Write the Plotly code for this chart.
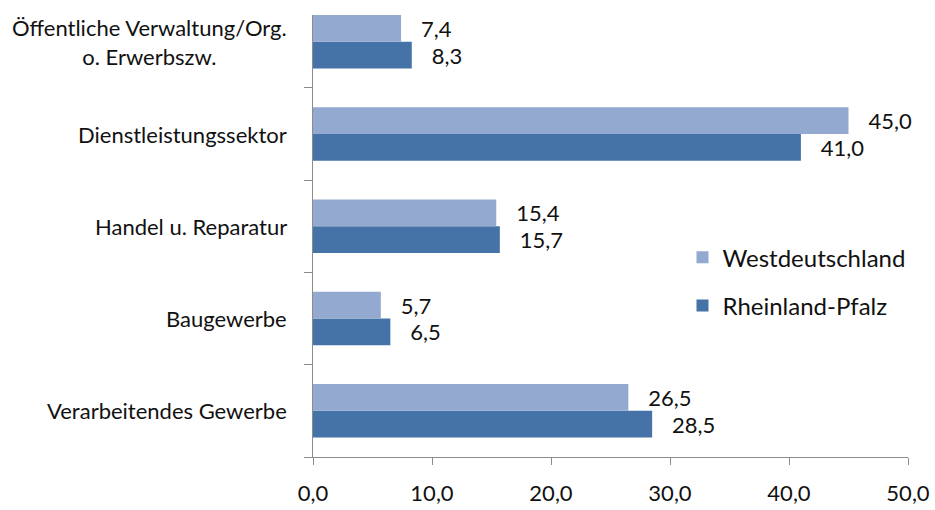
import plotly.graph_objects as go

# Sectors, bottom to top
categories = [
    "Verarbeitendes Gewerbe",
    "Baugewerbe",
    "Handel u. Reparatur",
    "Dienstleistungssektor",
    "Öffentliche Verwaltung/Org.<br>o. Erwerbszw.",
]
west = [26.5, 5.7, 15.4, 45.0, 7.4]
rlp = [28.5, 6.5, 15.7, 41.0, 8.3]

x_ticks = [0, 10, 20, 30, 40, 50]

FONT = "Lato, 'Open Sans', sans-serif"
C_WEST = "#93A9CF"
C_RLP = "#4572A7"
AXIS = "#8C8C8C"
TXT = "#111111"

pos = list(range(len(categories)))
fig = go.Figure()

# Rheinland-Pfalz first so it sits below Westdeutschland within each group
for name, vals, col, rank in [("Rheinland-Pfalz", rlp, C_RLP, 2),
                              ("Westdeutschland", west, C_WEST, 1)]:
    fig.add_trace(go.Bar(
        y=pos, x=vals, name=name, orientation="h",
        marker=dict(color=col, line=dict(width=0)),
        texttemplate="\u00a0\u00a0\u00a0%{x:.1f}", textposition="outside",
        textfont=dict(family=FONT, size=22, color=TXT),
        constraintext="none", cliponaxis=False,
        legendgroup=name, legendrank=rank,
    ))

# Category labels at the left of each group
for p, c in zip(pos, categories):
    fig.add_annotation(
        x=0, xref="paper", xshift=-24, xanchor="right",
        y=p, yref="y", yanchor="middle", align="center",
        text=c, showarrow=False,
        font=dict(family=FONT, size=22, color=TXT),
    )

fig.update_layout(
    width=935, height=510,
    margin=dict(l=313, r=27, t=15, b=53, autoexpand=False),
    paper_bgcolor="white", plot_bgcolor="white",
    barmode="group", bargap=0.42, bargroupgap=0,
    separators=", ",
    font=dict(family=FONT, size=22, color=TXT),
    showlegend=True,
    legend=dict(
        x=0.621, y=0.502, xanchor="left", yanchor="top",
        traceorder="grouped", tracegroupgap=14,
        font=dict(family=FONT, size=24, color=TXT),
        bgcolor="rgba(0,0,0,0)",
    ),
    xaxis=dict(
        range=[0, 50], tickvals=x_ticks, tickformat=".1f",
        showgrid=False, zeroline=False, automargin=False,
        showline=True, linecolor=AXIS, linewidth=1,
        ticks="outside", ticklen=7, tickcolor=AXIS,
        ticklabelstandoff=10,
        tickfont=dict(family=FONT, size=22, color=TXT),
    ),
    yaxis=dict(
        range=[-0.5, 4.29], showgrid=False, zeroline=False, automargin=False,
        showline=True, linecolor=AXIS, linewidth=1,
        tickvals=[p - 0.5 for p in pos], ticktext=["" for _ in pos],
        ticks="outside", ticklen=8, tickcolor=AXIS,
    ),
)

fig.write_html("out.html")
